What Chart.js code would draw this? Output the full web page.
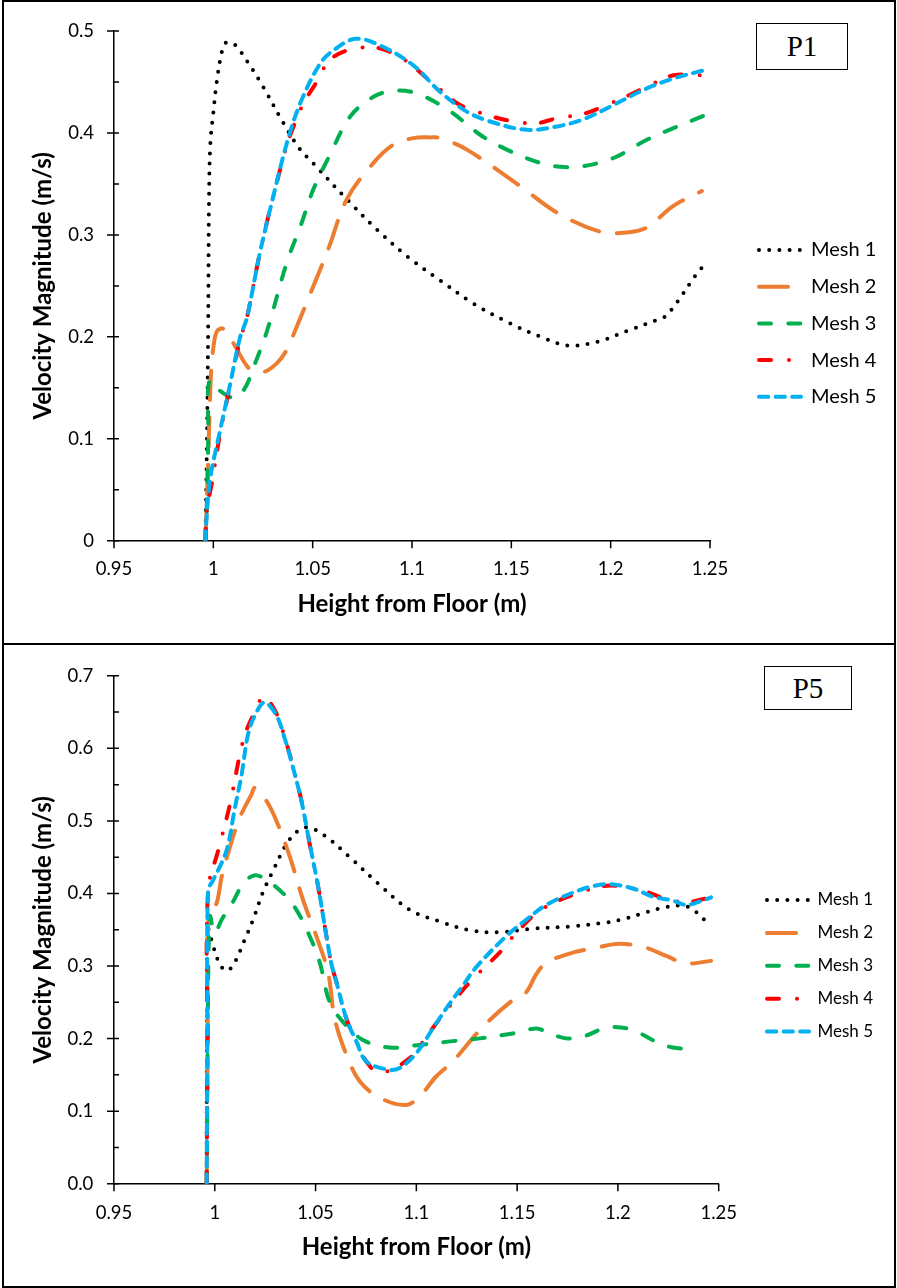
<!DOCTYPE html>
<html>
<head>
<meta charset="utf-8">
<title>Velocity Magnitude - mesh study P1 / P5</title>
<script src="https://cdn.jsdelivr.net/npm/chart.js@4.4.1/dist/chart.umd.min.js"></script>
<style>
    html, body { margin: 0; padding: 0; background: #fff; }
    body { width: 897px; height: 1288px; position: relative; overflow: hidden; }
    canvas { position: absolute; left: 0; }
    .panel { position: absolute; left: 2px; width: 894px; height: 645px; border: 2px solid #000; box-sizing: border-box; pointer-events: none; }
    .tag {
        position: absolute; border: 1.5px solid #000; box-sizing: border-box; background: #fff;
        font-family: 'Liberation Serif', 'Times New Roman', serif; font-size: 29px; color: #000;
        display: flex; align-items: center; justify-content: center;
    }
</style>
</head>
<body>
<canvas id="chartP1" width="897" height="644" style="top:0"></canvas>
<canvas id="chartP5" width="897" height="644" style="top:644px"></canvas>
<div class="panel" style="top:0"></div>
<div class="panel" style="top:643px"></div>
<div class="tag" style="left:756px; top:23px; width:92px; height:47px;">P1</div>
<div class="tag" style="left:764px; top:666px; width:88px; height:44px;">P5</div>

<script>
// Mesh independence check - velocity profiles at P1 and P5

const meshNames = ['Mesh 1', 'Mesh 2', 'Mesh 3', 'Mesh 4', 'Mesh 5'];

const xTicks = [0.95, 1, 1.05, 1.1, 1.15, 1.2, 1.25];
const xLabels = ['0.95', '1', '1.05', '1.1', '1.15', '1.2', '1.25'];
const p1YTicks = [0, 0.1, 0.2, 0.3, 0.4, 0.5];
const p1YLabels = ['0', '0.1', '0.2', '0.3', '0.4', '0.5'];
const p5YTicks = [0, 0.1, 0.2, 0.3, 0.4, 0.5, 0.6, 0.7];
const p5YLabels = ['0.0', '0.1', '0.2', '0.3', '0.4', '0.5', '0.6', '0.7'];

// P1 - [height (m), velocity (m/s)]
const p1Mesh1 = [[0.996,0],[0.9968,0.1],[0.9974,0.21],[0.9978,0.33],[0.9985,0.39],[1.0,0.42],[1.0017,0.45],[1.0042,0.479],[1.0062,0.4885],[1.0106,0.487],[1.0168,0.471],[1.0252,0.445],[1.0349,0.411],[1.0433,0.385],[1.0504,0.37],[1.0672,0.335],[1.0825,0.305],[1.0982,0.278],[1.1141,0.2555],[1.1309,0.2327],[1.1494,0.2132],[1.1645,0.2003],[1.1788,0.1915],[1.1939,0.1954],[1.2082,0.2058],[1.2232,0.2165],[1.2274,0.22],[1.2333,0.2337],[1.2425,0.2597],[1.246,0.268]];
const p1Mesh2 = [[0.996,0],[0.997,0.053],[0.9978,0.105],[0.9988,0.163],[0.9998,0.186],[1.0017,0.205],[1.005,0.208],[1.01,0.194],[1.0185,0.168],[1.0252,0.1655],[1.0319,0.174],[1.0369,0.187],[1.0403,0.202],[1.0461,0.2295],[1.0579,0.2863],[1.0672,0.335],[1.0806,0.3707],[1.0906,0.3885],[1.1007,0.395],[1.1091,0.3957],[1.1141,0.395],[1.1276,0.3837],[1.1544,0.348],[1.1729,0.322],[1.1947,0.3032],[1.2082,0.3025],[1.2182,0.3074],[1.2316,0.3285],[1.2459,0.3431]];
const p1Mesh3 = [[0.996,0],[0.9967,0.033],[0.9975,0.105],[0.998,0.157],[1.0034,0.147],[1.0109,0.14],[1.016,0.15],[1.021,0.174],[1.0269,0.205],[1.037,0.273],[1.0445,0.312],[1.0504,0.345],[1.0588,0.379],[1.0688,0.416],[1.0806,0.4356],[1.0915,0.4415],[1.1024,0.4388],[1.1183,0.4226],[1.1343,0.3983],[1.1477,0.3837],[1.1645,0.3707],[1.1746,0.3668],[1.1863,0.3675],[1.2014,0.3755],[1.2182,0.3934],[1.2316,0.4048],[1.2467,0.4168]];
const p1Mesh4 = [[0.996,0],[0.9967,0.03],[0.9992,0.056],[1.0034,0.105],[1.0084,0.152],[1.0134,0.197],[1.0168,0.218],[1.0235,0.283],[1.0302,0.338],[1.037,0.388],[1.0403,0.406],[1.0453,0.429],[1.0504,0.445],[1.0604,0.4746],[1.0789,0.4843],[1.094,0.4746],[1.1125,0.4454],[1.1242,0.4275],[1.1393,0.4168],[1.1511,0.4113],[1.1628,0.4096],[1.1729,0.4145],[1.1863,0.4187],[1.198,0.4275],[1.2082,0.4362],[1.2199,0.447],[1.2316,0.4567],[1.2452,0.4567]];
const p1Mesh5 = [[0.9958,0],[0.9983,0.059],[1.0034,0.108],[1.0084,0.153],[1.0134,0.199],[1.0168,0.218],[1.0235,0.283],[1.0302,0.338],[1.037,0.39],[1.0437,0.429],[1.0537,0.468],[1.0604,0.481],[1.0714,0.4924],[1.084,0.4859],[1.1007,0.4664],[1.1141,0.4405],[1.1276,0.421],[1.1393,0.4113],[1.1578,0.4031],[1.1729,0.4064],[1.1863,0.4135],[1.2014,0.4275],[1.2182,0.4438],[1.2316,0.4535],[1.2467,0.4615]];

// P5 - [height (m), velocity (m/s)]
const p5Mesh1 = [[0.996,0],[0.996,0.11],[0.9963,0.25],[0.9967,0.35],[0.9992,0.3275],[1.0025,0.3025],[1.0058,0.2934],[1.0091,0.301],[1.0149,0.3365],[1.019,0.3638],[1.024,0.4025],[1.029,0.4319],[1.0356,0.4683],[1.0413,0.4864],[1.0463,0.491],[1.0546,0.4796],[1.0669,0.4501],[1.081,0.4138],[1.0967,0.3774],[1.1115,0.3616],[1.1264,0.3493],[1.1413,0.3466],[1.1561,0.3511],[1.1776,0.3548],[1.1925,0.3593],[1.2016,0.3638],[1.2115,0.372],[1.2214,0.3797],[1.2313,0.3834],[1.2363,0.3797],[1.2404,0.3706],[1.2437,0.3616]];
const p5Mesh2 = [[0.996,0],[0.9965,0.2],[0.997,0.37],[1.0009,0.3865],[1.0034,0.4229],[1.0075,0.4638],[1.0124,0.5046],[1.0182,0.5364],[1.0199,0.5455],[1.0257,0.5272],[1.0306,0.5],[1.0373,0.4501],[1.0438,0.391],[1.0504,0.3411],[1.0562,0.2911],[1.0595,0.2275],[1.0653,0.1777],[1.0719,0.1413],[1.0818,0.1185],[1.095,0.1086],[1.1025,0.1232],[1.1099,0.1481],[1.1181,0.1685],[1.133,0.2162],[1.1496,0.2571],[1.1545,0.2639],[1.1595,0.2888],[1.1646,0.3048],[1.1776,0.3184],[1.1892,0.3252],[1.2007,0.3307],[1.214,0.3252],[1.2239,0.3139],[1.2338,0.3038],[1.2462,0.3071]];
const p5Mesh3 = [[0.996,0],[0.9965,0.2],[0.9976,0.3684],[1.0,0.3457],[1.0034,0.3638],[1.0091,0.3888],[1.0141,0.4138],[1.0199,0.4251],[1.0257,0.4183],[1.0339,0.4001],[1.0405,0.3774],[1.0471,0.3411],[1.0521,0.3048],[1.057,0.2503],[1.0636,0.223],[1.0735,0.1981],[1.0868,0.1876],[1.1016,0.1913],[1.1157,0.1958],[1.1314,0.2003],[1.1479,0.2071],[1.1595,0.2139],[1.1661,0.2071],[1.1743,0.2003],[1.1826,0.2026],[1.1925,0.2139],[1.1974,0.2162],[1.2074,0.2117],[1.2189,0.1958],[1.2272,0.1876],[1.2371,0.1858]];
const p5Mesh4 = [[0.996,0],[0.9963,0.2],[0.9967,0.405],[1.0017,0.4591],[1.0075,0.5227],[1.0141,0.6113],[1.019,0.6454],[1.0243,0.6703],[1.0306,0.648],[1.0347,0.615],[1.0389,0.574],[1.043,0.528],[1.0471,0.468],[1.0513,0.409],[1.0554,0.341],[1.0579,0.3025],[1.0604,0.2775],[1.0653,0.2275],[1.0703,0.1958],[1.0752,0.1685],[1.0818,0.1526],[1.0967,0.173],[1.1058,0.206],[1.1149,0.239],[1.1264,0.2775],[1.1355,0.3025],[1.1413,0.3184],[1.1496,0.3457],[1.1595,0.3729],[1.1694,0.3888],[1.181,0.4011],[1.1925,0.4101],[1.2007,0.4101],[1.214,0.4025],[1.2239,0.392],[1.2338,0.3875],[1.2371,0.3888],[1.2462,0.3947]];
const p5Mesh5 = [[0.996,0],[0.9963,0.2],[0.9967,0.4046],[0.9992,0.4183],[1.0058,0.4591],[1.01,0.5183],[1.0133,0.5636],[1.0166,0.6204],[1.0207,0.6499],[1.0248,0.6635],[1.0306,0.6454],[1.0347,0.6136],[1.0389,0.5727],[1.043,0.5272],[1.0471,0.4683],[1.0513,0.4093],[1.0554,0.3411],[1.0579,0.3025],[1.0604,0.2775],[1.0653,0.2275],[1.0703,0.1958],[1.0752,0.1685],[1.0859,0.1572],[1.0917,0.1594],[1.1,0.18],[1.1082,0.2139],[1.1157,0.245],[1.1231,0.273],[1.1297,0.2985],[1.1446,0.3411],[1.1545,0.3638],[1.1644,0.3842],[1.1776,0.4011],[1.1875,0.4101],[1.1958,0.4128],[1.2074,0.4069],[1.2173,0.3956],[1.2272,0.3902],[1.2338,0.3842],[1.2404,0.3888],[1.2462,0.3947]];

// Excel-like line styles (round caps, so dash lengths are a bit shorter than they look)
const meshStyles = [
    { color: '#000000', width: 4, dash: [0, 10.2] },
    { color: '#ED7D31', width: 4, dash: [29, 18] },
    { color: '#00B050', width: 4, dash: [12, 17.3] },
    { color: '#FF0000', width: 4, dash: [12, 18, 0, 16] },
    { color: '#00B0F0', width: 4, dash: [9.3, 7.3] }
];

Chart.defaults.font.family = 'Lato';
Chart.defaults.color = '#000';

function makeDatasets(series) {
    return series.map((pts, i) => ({
        label: meshNames[i],
        data: pts.map(p => ({ x: p[0], y: p[1] })),
        borderColor: meshStyles[i].color,
        backgroundColor: meshStyles[i].color,
        borderWidth: meshStyles[i].width,
        borderDash: meshStyles[i].dash,
        borderCapStyle: 'round',
        borderJoinStyle: 'round',
        pointRadius: 0,
        tension: 0.35,
        fill: false,
        order: series.length - i   // last mesh drawn on top
    }));
}

// Tick marks like the Excel axes: major cross the y axis, minor inside, x ticks hang below
const axisTicks = {
    id: 'axisTicks',
    afterDraw(chart) {
        const { ctx, scales: { x, y } } = chart;
        const ax = chart.chartArea.left;
        const ay = chart.chartArea.bottom;
        ctx.save();
        ctx.strokeStyle = '#000';
        ctx.lineWidth = 1.5;
        ctx.beginPath();
        y.ticks.forEach((t, i) => {
            const py = y.getPixelForValue(t.value);
            ctx.moveTo(ax - 7, py);
            ctx.lineTo(ax + 5, py);
            if (i < y.ticks.length - 1) {
                const pm = y.getPixelForValue((t.value + y.ticks[i + 1].value) / 2);
                ctx.moveTo(ax, pm);
                ctx.lineTo(ax + 5, pm);
            }
        });
        x.ticks.forEach(t => {
            const px = x.getPixelForValue(t.value);
            ctx.moveTo(px, ay);
            ctx.lineTo(px, ay + 7.5);
        });
        ctx.stroke();
        ctx.restore();
    }
};

// Move the legend to where it sits in the original figure
const legendSpot = {
    id: 'legendSpot',
    afterLayout(chart, args, opts) {
        const lg = chart.legend;
        if (!lg) return;
        lg.left = opts.left;
        lg.top = opts.top;
        lg.right = chart.width;
        lg.bottom = chart.height;
    }
};

function legendItems(chart) {
    return chart.data.datasets.map((ds, i) => ({
        text: ds.label,
        datasetIndex: i,
        hidden: false,
        strokeStyle: ds.borderColor,
        fillStyle: ds.borderColor,
        lineWidth: ds.borderWidth,
        lineDash: ds.borderDash,
        lineCap: ds.borderCapStyle,
        pointStyle: 'line'
    }));
}

function buildChart(canvasId, cfg) {
    const tickFont = { family: 'Lato', size: 18.5 };
    const titleFont = { family: 'Lato', size: 24, weight: 'bold' };

    return new Chart(document.getElementById(canvasId), {
        type: 'line',
        data: { datasets: makeDatasets(cfg.series) },
        plugins: [axisTicks, legendSpot],
        options: {
            responsive: false,
            animation: false,
            devicePixelRatio: 1,
            layout: { padding: cfg.padding },
            plugins: {
                tooltip: { enabled: false },
                legend: {
                    position: 'chartArea',
                    align: 'start',
                    labels: {
                        usePointStyle: true,
                        pointStyle: 'line',
                        pointStyleWidth: 42,
                        padding: cfg.legendGap,
                        color: '#000',
                        font: { family: 'Lato', size: cfg.legendSize },
                        generateLabels: legendItems
                    }
                },
                legendSpot: cfg.legendAt
            },
            scales: {
                x: {
                    type: 'linear',
                    min: 0.95,
                    max: 1.25,
                    afterBuildTicks: s => { s.ticks = xTicks.map(v => ({ value: v })); },
                    afterFit: s => { s.height = 90; },
                    grid: { display: false, drawTicks: false },
                    border: { color: '#000', width: 1.5 },
                    ticks: {
                        padding: cfg.xTickPad, color: '#000', font: tickFont,
                        maxRotation: 0, autoSkip: false,
                        callback: (v, i) => xLabels[i]
                    },
                    title: {
                        display: true, text: 'Height from Floor (m)', color: '#000',
                        font: titleFont, padding: { top: 0, bottom: cfg.xTitlePad }
                    }
                },
                y: {
                    type: 'linear',
                    min: 0,
                    max: cfg.yMax,
                    afterBuildTicks: s => { s.ticks = cfg.yTicks.map(v => ({ value: v })); },
                    afterFit: s => { s.width = 114; },
                    grid: { display: false, drawTicks: false },
                    border: { color: '#000', width: 1.5 },
                    ticks: {
                        padding: cfg.yTickPad, color: '#000', font: tickFont, autoSkip: false,
                        callback: (v, i) => cfg.yLabels[i]
                    },
                    title: {
                        display: true, text: 'Velocity Magnitude (m/s)', color: '#000',
                        font: titleFont, padding: { top: 28.4, bottom: 0 }
                    }
                }
            }
        }
    });
}

buildChart('chartP1', {
    series: [p1Mesh1, p1Mesh2, p1Mesh3, p1Mesh4, p1Mesh5],
    yMax: 0.5, yTicks: p1YTicks, yLabels: p1YLabels,
    padding: { top: 27.3, right: 187, bottom: 13.3, left: 0 },
    xTickPad: 17.1, yTickPad: 20, xTitlePad: 12,
    legendSize: 20, legendGap: 16.7,
    legendAt: { left: 742.3, top: 223.3 }
});

buildChart('chartP5', {
    series: [p5Mesh1, p5Mesh2, p5Mesh3, p5Mesh4, p5Mesh5],
    yMax: 0.7, yTicks: p5YTicks, yLabels: p5YLabels,
    padding: { top: 26, right: 178.3, bottom: 14.3, left: 0 },
    xTickPad: 17.9, yTickPad: 20.7, xTitlePad: 12.2,
    legendSize: 17, legendGap: 15.9,
    legendAt: { left: 751.1, top: 231.6 }
});
</script>
</body>
</html>
